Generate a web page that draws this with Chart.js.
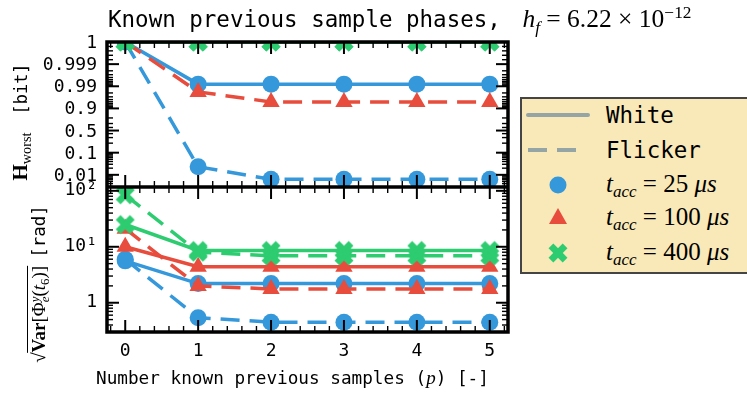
<!DOCTYPE html>
<html>
<head>
<meta charset="utf-8">
<script src="https://cdn.jsdelivr.net/npm/chart.js@4.4.0/dist/chart.umd.min.js"></script>
<style>
  body { margin: 0; width: 747px; height: 394px; overflow: hidden; background: #fff; position: relative; }
  .mono { font-family: "DejaVu Sans Mono", monospace; }
  .math { font-family: "Liberation Serif", "DejaVu Serif", serif; }
  .abs { position: absolute; white-space: nowrap; }
  sub { font-size: 0.68em; vertical-align: -0.32em; line-height: 0; }
  sup { font-size: 0.68em; vertical-align: 0.5em; line-height: 0; }
  #chart { position: absolute; left: 0; top: 0; }
  #legend { position: absolute; left: 520px; top: 97px; width: 240px; height: 177px; box-sizing: border-box;
            border: 2.5px solid #454545; background: #f9e9b8; }
  .rot { position: absolute; width: 0; height: 0; }
  .rot > span { position: absolute; left: 0; top: 0; transform: translate(-50%, -50%) rotate(-90deg); white-space: nowrap; }
  .hlab { position: absolute; left: 0; width: 97px; height: 22px; line-height: 22px; text-align: right;
          font-family: "DejaVu Sans Mono", monospace; font-size: 18px; color: #000; }
</style>
</head>
<body>
<canvas id="chart" width="747" height="394"></canvas>

<div class="abs mono" style="left:108px; top:4px; font-size:22.5px;">Known previous sample phases,&nbsp;<span class="math" style="font-size:25.5px; margin-left:8px;"><i>h</i><sub><i>f</i></sub> = 6.22 × 10<sup>−12</sup></span></div>

<div class="rot" style="left:20px; top:122px;"><span><span class="math" style="font-size:21px;"><b>H</b><sub>worst</sub></span><span class="mono" style="font-size:17px; margin-left:18px;">[bit]</span></span></div>

<div class="rot" style="left:39px; top:284px;"><span><span class="math" style="font-size:19px;">√<span style="border-top:1.3px solid #000;"><b>Var</b>[Φ<sup><i>y</i></sup><sub style="margin-left:-0.45em;"><i>e</i></sub>(<i>t</i><sub>6</sub>)]</span></span><span class="mono" style="font-size:17.5px; margin-left:8px;">[rad]</span></span></div>

<div class="abs mono" style="left:96px; top:367px; font-size:17.7px;">Number known previous samples (<span class="math" style="font-size:19px;"><i>p</i></span>) [-]</div>

<div id="hLabels"></div>

<div id="legend"></div>
<svg class="abs" width="747" height="394" style="left:0; top:0;">
  <line x1="528" y1="115" x2="588" y2="115" stroke="#95a5a6" stroke-width="4" stroke-linecap="round"/>
  <line x1="528" y1="150" x2="577" y2="150" stroke="#95a5a6" stroke-width="4" stroke-dasharray="19 10"/>
  <circle cx="558" cy="185" r="8.5" fill="#3498db"/>
  <polygon points="558,208 567,224 549,224" fill="#e74c3c"/>
  <g transform="translate(558 253) rotate(45)" fill="#2ecc71">
    <rect x="-10" y="-3.4" width="20" height="6.8"/>
    <rect x="-3.4" y="-10" width="6.8" height="20"/>
  </g>
</svg>
<div class="abs mono" style="left:606px; top:101px; line-height:28px; font-size:22.5px;">White</div>
<div class="abs mono" style="left:606px; top:136px; line-height:28px; font-size:22.5px;">Flicker</div>
<div class="abs math" style="left:606px; top:170px; line-height:28px; font-size:25px;"><i>t</i><sub><i>acc</i></sub> = 25 <i>μs</i></div>
<div class="abs math" style="left:606px; top:203px; line-height:28px; font-size:25px;"><i>t</i><sub><i>acc</i></sub> = 100 <i>μs</i></div>
<div class="abs math" style="left:606px; top:238px; line-height:28px; font-size:25px;"><i>t</i><sub><i>acc</i></sub> = 400 <i>μs</i></div>

<script>
// number of known previous samples p
const xSamples = [0, 1, 2, 3, 4, 5];

// H_worst [bit]
const hWhite25 = [1, 0.992, 0.992, 0.992, 0.992, 0.992];
const hFlicker25 = [1, 0.023, 0.0063, 0.0063, 0.0063, 0.0063];
const hWhite100 = [1, 1, 1, 1, 1, 1];
const hFlicker100 = [1, 0.982, 0.949, 0.949, 0.949, 0.949];
const hWhite400 = [1, 1, 1, 1, 1, 1];
const hFlicker400 = [1, 1, 1, 1, 1, 1];

// sqrt(Var[phi]) [rad]
const vWhite25 = [5.6, 2.2, 2.2, 2.2, 2.2, 2.2];
const vFlicker25 = [6.0, 0.54, 0.45, 0.45, 0.45, 0.45];
const vWhite100 = [10, 4.4, 4.4, 4.4, 4.4, 4.4];
const vFlicker100 = [21, 2.0, 1.76, 1.76, 1.76, 1.76];
const vWhite400 = [25, 8.6, 8.6, 8.6, 8.6, 8.6];
const vFlicker400 = [85, 8.0, 6.9, 6.9, 6.9, 6.9];

const xTicks = [0, 1, 2, 3, 4, 5];
const hTickVals = [0.01, 0.1, 0.5, 0.9, 0.99, 0.999, 1];
const hTickLabels = ['0.01', '0.1', '0.5', '0.9', '0.99', '0.999', '1'];
const vTickVals = [1, 10, 100];
const vTickLabels = ['1', '10¹', '10²'];

const BLUE = '#3498db', RED = '#e74c3c', GREEN = '#2ecc71';

// the H axis has every labelled value one step apart (log near 0 and near 1)
function hPos(v) {
  if (v <= 0.1) return 2 + Math.log10(v);
  if (v <= 0.5) return 1 + Math.log10(v / 0.1) / Math.log10(5);
  if (v <= 0.9) return 2 + Math.log10(0.5 / (1 - v)) / Math.log10(5);
  if (v <= 0.999) return 3 + (-1 - Math.log10(1 - v));
  return 5 + (v - 0.999) / 0.001;
}

class HScale extends Chart.LinearScale {
  getPixelForValue(v) { return super.getPixelForValue(hPos(v)); }
}
HScale.id = 'hworst';
HScale.defaults = Chart.LinearScale.defaults;
Chart.register(HScale);

function xMarker(color) {
  const c = document.createElement('canvas');
  c.width = c.height = 24;
  const g = c.getContext('2d');
  g.translate(12, 12);
  g.rotate(Math.PI / 4);
  g.fillStyle = color;
  g.fillRect(-10, -3.4, 20, 6.8);
  g.fillRect(-3.4, -10, 6.8, 20);
  return c;
}

function series(values, color, dashed, marker, axis) {
  return {
    data: xSamples.map((x, i) => ({ x: x, y: values[i] })),
    yAxisID: axis,
    borderColor: color,
    backgroundColor: color,
    borderWidth: 3.5,
    borderDash: dashed ? [19, 10] : [],
    pointStyle: marker === 'x' ? xMarker(color) : marker,
    pointRadius: marker === 'triangle' ? 10 : 8.5,
    pointBorderWidth: 0,
    pointBackgroundColor: color,
    clip: 0
  };
}

const datasets = [
  series(hWhite25, BLUE, false, 'circle', 'yH'),
  series(hFlicker25, BLUE, true, 'circle', 'yH'),
  series(hWhite100, RED, false, 'triangle', 'yH'),
  series(hFlicker100, RED, true, 'triangle', 'yH'),
  series(hWhite400, GREEN, false, 'x', 'yH'),
  series(hFlicker400, GREEN, true, 'x', 'yH'),
  series(vWhite25, BLUE, false, 'circle', 'yV'),
  series(vFlicker25, BLUE, true, 'circle', 'yV'),
  series(vWhite100, RED, false, 'triangle', 'yV'),
  series(vFlicker100, RED, true, 'triangle', 'yV'),
  series(vWhite400, GREEN, false, 'x', 'yV'),
  series(vFlicker400, GREEN, true, 'x', 'yV')
];
datasets.forEach((d, i) => { d.order = 100 - i; });

// minor tick values
const xMinor = [];
for (let k = -1; k <= 26; k++) if (k % 5 !== 0) xMinor.push(k / 5);
const hMinor = [];
for (let k = 3; k <= 9; k++) hMinor.push(k / 1000);
for (let k = 2; k <= 9; k++) hMinor.push(k / 100);
[0.2, 0.3, 0.4, 0.6, 0.7, 0.8].forEach(v => hMinor.push(v));
for (let k = 2; k <= 9; k++) hMinor.push(1 - k / 100);
for (let k = 2; k <= 9; k++) hMinor.push(1 - k / 1000);
for (let k = 2; k <= 8; k += 2) hMinor.push(0.999 + k / 10000);
const vMinor = [];
[0.1, 1, 10].forEach(d => { for (let k = 2; k <= 9; k++) vMinor.push(d * k); });

const MAJ = 12, MIN = 6;
const frameAndTicks = {
  id: 'frameAndTicks',
  afterDatasetsDraw(chart) {
    const { ctx, chartArea: a, scales } = chart;
    const { x, yH, yV } = scales;
    ctx.save();
    ctx.strokeStyle = '#000';
    const seg = (x1, y1, x2, y2, w) => {
      ctx.lineWidth = w;
      ctx.beginPath();
      ctx.moveTo(x1, y1);
      ctx.lineTo(x2, y2);
      ctx.stroke();
    };
    [yH, yV].forEach(s => {
      xTicks.forEach(v => {
        const p = x.getPixelForValue(v);
        seg(p, s.top, p, s.top + MAJ, 2);
        seg(p, s.bottom, p, s.bottom - MAJ, 2);
      });
      xMinor.forEach(v => {
        const p = x.getPixelForValue(v);
        if (p < a.left || p > a.right) return;
        seg(p, s.top, p, s.top + MIN, 1.4);
        seg(p, s.bottom, p, s.bottom - MIN, 1.4);
      });
    });
    const yTicks = (s, major, minor) => {
      major.forEach(v => {
        const p = s.getPixelForValue(v);
        seg(a.left, p, a.left + MAJ, p, 2);
        seg(a.right, p, a.right - MAJ, p, 2);
      });
      minor.forEach(v => {
        const p = s.getPixelForValue(v);
        if (p < s.top || p > s.bottom) return;
        seg(a.left, p, a.left + MIN, p, 1.4);
        seg(a.right, p, a.right - MIN, p, 1.4);
      });
    };
    yTicks(yH, hTickVals, hMinor);
    yTicks(yV, vTickVals, vMinor);
    ctx.lineWidth = 3.5;
    ctx.strokeRect(a.left, a.top, a.right - a.left, a.bottom - a.top);
    seg(a.left, yH.bottom, a.right, yH.bottom, 3.5);
    ctx.restore();

    // tick labels of the H axis, placed from the scale
    const box = document.getElementById('hLabels');
    box.innerHTML = '';
    hTickVals.forEach((v, i) => {
      const d = document.createElement('div');
      d.className = 'hlab';
      d.style.top = (yH.getPixelForValue(v) - 11) + 'px';
      d.textContent = hTickLabels[i];
      box.appendChild(d);
    });
  }
};

const tickFont = { family: 'DejaVu Sans Mono', size: 18 };

new Chart(document.getElementById('chart'), {
  type: 'line',
  data: { datasets: datasets },
  options: {
    responsive: false,
    animation: false,
    events: [],
    layout: { padding: { left: 0, top: 42, right: 239, bottom: 0 } },
    plugins: { legend: { display: false }, tooltip: { enabled: false } },
    scales: {
      x: {
        type: 'linear', min: -0.25, max: 5.25,
        grid: { display: false, drawTicks: false }, border: { display: false },
        ticks: { font: tickFont, color: '#000', padding: 9, autoSkip: false, maxRotation: 0,
                 callback: (v, i) => String(xTicks[i]) },
        afterBuildTicks: s => { s.ticks = xTicks.map(v => ({ value: v })); },
        afterFit: s => { s.height = 62; }
      },
      yV: {
        type: 'logarithmic', position: 'left', stack: 'panels', stackWeight: 1,
        min: 0.327, max: 117,
        grid: { display: false, drawTicks: false }, border: { display: false },
        ticks: { font: tickFont, color: '#000', padding: 10, autoSkip: false,
                 callback: (v, i) => vTickLabels[i] },
        afterBuildTicks: s => { s.ticks = vTickVals.map(v => ({ value: v })); },
        afterFit: s => { s.width = 107; }
      },
      yH: {
        type: 'hworst', position: 'left', stack: 'panels', stackWeight: 1,
        min: -0.55, max: 6,
        grid: { display: false, drawTicks: false }, border: { display: false },
        ticks: { display: false },
        afterBuildTicks: s => { s.ticks = hTickVals.map(v => ({ value: v })); },
        afterFit: s => { s.width = 107; }
      }
    }
  },
  plugins: [frameAndTicks]
});
</script>
</body>
</html>
